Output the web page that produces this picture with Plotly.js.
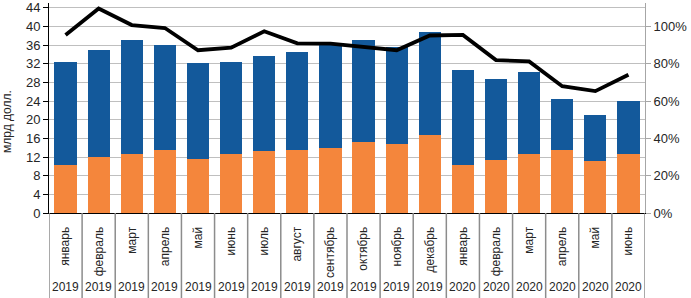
<!DOCTYPE html>
<html>
<head>
<meta charset="utf-8">
<script src="https://cdn.plot.ly/plotly-3.0.1.min.js"></script>
<style>html,body{margin:0;padding:0;background:#fff;}#chart{width:691px;height:298px;}</style>
</head>
<body>
<div id="chart"></div>
<script>
const months = ['январь','февраль','март','апрель','май','июнь','июль','август','сентябрь','октябрь','ноябрь','декабрь','январь','февраль','март','апрель','май','июнь'];
const years = ['2019','2019','2019','2019','2019','2019','2019','2019','2019','2019','2019','2019','2020','2020','2020','2020','2020','2020'];
const orangeVals = [10.2,12.1,12.6,13.5,11.6,12.6,13.3,13.6,14.0,15.3,14.7,16.8,10.3,11.4,12.6,13.6,11.2,12.6];
const blueVals = [22.1,22.9,24.4,22.6,20.5,19.8,20.4,20.9,22.2,21.8,20.9,21.9,20.4,17.3,17.6,10.8,9.8,11.5];
const linePct = [95.4,109.5,100.7,99.1,87.2,88.6,97.4,90.9,90.7,89.0,87.2,95.1,95.4,81.9,81.2,67.9,65.3,74.1];
const leftTicks = [0,4,8,12,16,20,24,28,32,36,40,44];
const rightTicks = [0,20,40,60,80,100];

const xs = months.map((m, i) => i);
const FONT = 'Liberation Sans, Arial, sans-serif';
const H = 298, T = 3, B = 85;
const plotH = H - T - B;
const baseY = T + plotH;

const traces = [
  {type:'bar', x: xs, y: orangeVals, marker:{color:'#F4863C'}, hoverinfo:'skip'},
  {type:'bar', x: xs, y: blueVals, marker:{color:'#13599B'}, hoverinfo:'skip'},
  {type:'scatter', mode:'lines', x: xs, y: linePct.map(v => v/100), yaxis:'y2',
   line:{color:'#000000', width:3.8}, hoverinfo:'skip', cliponaxis:false}
];

const shapes = [];
for (let i = 0; i <= months.length; i++) {
  shapes.push({type:'line', xref:'x', yref:'paper', x0:i-0.5, x1:i-0.5, y0:0, y1:-(B+2)/plotH,
    line:{color:'#8c8c8c', width:1.5}, layer:'above'});
}
const annotations = years.map((y, i) => ({
  x: i, xref:'x', y: -(287 - baseY)/plotH, yref:'paper', text: y, showarrow:false,
  xanchor:'center', yanchor:'middle', font:{family:FONT, size:12, color:'#262626'}
}));
annotations.push({
  x: -42/595, xref:'paper', y: (baseY - 121)/plotH, yref:'paper', text:'млрд долл.',
  showarrow:false, textangle:-90, xanchor:'center', yanchor:'middle',
  font:{family:FONT, size:12, color:'#262626'}
});

const layout = {
  width:691, height:298,
  margin:{l:49, r:46, t:T, b:B, pad:0},
  paper_bgcolor:'#ffffff', plot_bgcolor:'#ffffff',
  barmode:'stack', bargap:0.33, showlegend:false,
  font:{family:FONT, size:12, color:'#262626'},
  xaxis:{range:[-0.5, months.length - 0.5], tickvals: xs, ticktext: months, tickangle:-90,
    ticks:'', showgrid:false, zeroline:false, showline:true, linecolor:'#000000', linewidth:1,
    tickfont:{family:FONT, size:12, color:'#262626'}, ticklabelstandoff:8, fixedrange:true},
  yaxis:{range:[0,45], tickvals:leftTicks, ticktext:leftTicks.map(String), ticks:'outside', ticklen:5,
    tickcolor:'#000000', showline:true, linecolor:'#000000', linewidth:1,
    showgrid:true, gridcolor:'#bfbfbf', gridwidth:1, zeroline:false,
    tickfont:{family:FONT, size:13, color:'#262626'}, fixedrange:true},
  yaxis2:{overlaying:'y', side:'right', range:[0,1.125], tickvals:rightTicks.map(v=>v/100),
    ticktext:rightTicks.map(v=>v+'%'), ticks:'outside', ticklen:5, tickcolor:'#a6a6a6',
    showline:true, linecolor:'#a6a6a6', linewidth:1, showgrid:false, zeroline:false,
    tickfont:{family:FONT, size:13, color:'#262626'}, fixedrange:true},
  shapes: shapes,
  annotations: annotations
};

Plotly.newPlot('chart', traces, layout, {displayModeBar:false, staticPlot:true});
</script>
</body>
</html>
